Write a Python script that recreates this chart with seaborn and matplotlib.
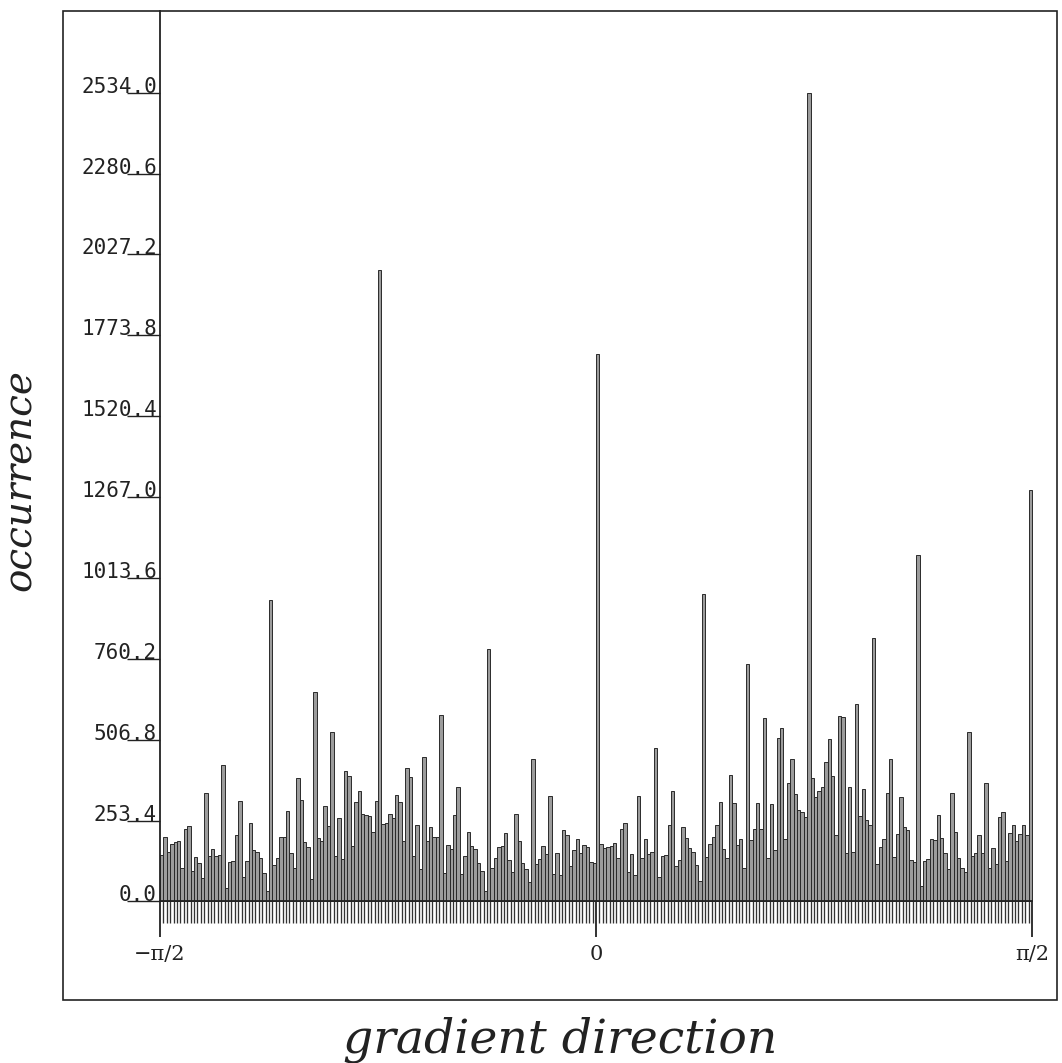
import numpy as np
import pandas as pd
import matplotlib
matplotlib.use('Agg')
import matplotlib.pyplot as plt
import seaborn as sns
from matplotlib.patches import Rectangle

sns.set_style("ticks")
plt.rcParams['font.family'] = ['DejaVu Serif']

# occurrences per gradient direction bin (256 bins from -pi/2 to pi/2)
counts_a = [146, 203, 156, 179, 186, 191, 106, 226, 237, 94, 138, 120, 73, 339,
            141, 164, 144, 146, 428, 42, 125, 127, 207, 316, 78, 127, 245, 162,
            156, 136, 89, 33, 945, 115, 136, 203, 203, 284, 151, 104, 386, 318]
counts_b = [185, 170, 71, 655, 198, 188, 300, 237, 532, 141, 263, 134, 410, 394,
            175, 313, 347, 273, 271, 269, 217, 315, 1978, 242, 245, 273, 263, 334,
            313, 190, 417, 389, 144, 238, 102, 454, 188, 232, 203, 201, 584, 89, 177]
counts_c = [164, 271, 360, 86, 144, 219, 175, 164, 120, 96, 33, 792, 104, 136,
            172, 174, 213, 130, 92, 273, 188, 120, 102, 60, 447, 117, 134, 175,
            149, 329, 87, 151, 83, 224, 207, 112, 162, 196, 151, 177, 170, 125, 120]
counts_d = [1715, 179, 167, 170, 175, 183, 136, 226, 245, 92, 149, 83, 329, 136,
            196, 149, 156, 480, 76, 141, 146, 238, 346, 110, 130, 233, 198, 169,
            154, 115, 65, 964, 138, 179, 203, 240, 313, 164, 136, 397, 308, 177]
counts_e = [195, 106, 745, 193, 226, 310, 227, 574, 136, 305, 162, 513, 543, 195,
            372, 446, 336, 287, 280, 266, 2534, 388, 326, 346, 360, 436, 508, 393,
            209, 581, 579, 151, 360, 154, 618, 268, 352, 256, 238, 826, 117, 172]
counts_f = [195, 339, 447, 139, 211, 326, 233, 224, 130, 125, 1086, 47, 128, 134,
            196, 193, 271, 200, 151, 102, 339, 217, 136, 106, 92, 532, 144, 151,
            209, 151, 370, 106, 167, 117, 266, 279, 128, 214, 238, 190, 211, 238,
            207, 1290]
counts = counts_a + counts_b + counts_c + counts_d + counts_e + counts_f

y_ticks = [0.0, 253.4, 506.8, 760.2, 1013.6, 1267.0, 1520.4, 1773.8, 2027.2, 2280.6, 2534.0]
x_ticks = [-np.pi / 2, 0.0, np.pi / 2]
x_labels = ['\u2212\u03c0/2', '0', '\u03c0/2']

n_bins = len(counts)
edges = np.linspace(-np.pi / 2, np.pi / 2, n_bins + 1)
centers = (edges[:-1] + edges[1:]) / 2
df = pd.DataFrame({'direction': centers, 'occurrence': counts})

fig = plt.figure(figsize=(10.62, 10.63), dpi=100)
ax = fig.add_axes([0.0593, 0.0593, 0.936, 0.9307])
sns.histplot(data=df, x='direction', weights='occurrence', bins=n_bins,
             binrange=(-np.pi / 2, np.pi / 2), ax=ax,
             element='bars', fill=True, color='#9c9c9c', edgecolor='#2a2a2a',
             linewidth=0.7, alpha=1)

ymax = 2791
ax.set_xlim(-1.9202, 1.6609)
ax.set_ylim(-308.6, ymax)

ax.spines['top'].set_visible(False)
ax.spines['right'].set_visible(False)
ax.spines['left'].set_position(('data', -np.pi / 2))
ax.spines['bottom'].set_position(('data', 0))
ax.spines['left'].set_bounds(0, ymax)
ax.spines['bottom'].set_bounds(-np.pi / 2, np.pi / 2)
for s in ['left', 'bottom']:
    ax.spines[s].set_color('#222222')
    ax.spines[s].set_linewidth(1.3)

# y axis: long ticks with the value written on top of them
ax.set_yticks(y_ticks)
ax.set_yticklabels([f'{v:.1f}' for v in y_ticks])
ax.tick_params(axis='y', left=True, direction='out', length=23.8, width=1.0,
               pad=-21.5, labelsize=15, colors='#222222')
for lab in ax.get_yticklabels():
    lab.set_va('baseline')
    lab.set_family('DejaVu Sans Mono')

# x axis: one small tick per bin, long ticks at -pi/2, 0, pi/2
ax.set_xticks(x_ticks)
ax.set_xticklabels(x_labels)
ax.set_xticks(edges, minor=True)
ax.tick_params(axis='x', which='major', bottom=True, direction='out', length=26,
               width=1.3, pad=5, labelsize=15, colors='#222222')
ax.tick_params(axis='x', which='minor', bottom=True, direction='out', length=15.8,
               width=0.95, colors='#333333')

ax.set_xlabel('gradient direction', fontsize=34, style='italic', color='#222222')
ax.set_ylabel('occurrence', fontsize=28, style='italic', color='#222222')
ax.xaxis.set_label_coords(0.5, -0.0404)
ax.xaxis.label.set_va('center')
ax.yaxis.set_label_coords(-0.043, 0.526)
ax.yaxis.label.set_va('center')

fig.add_artist(Rectangle((0.0593, 0.0593), 0.936, 0.9307, transform=fig.transFigure,
                         fill=False, lw=1.2, ec='#222222'))

fig.savefig('out.png', dpi=100)
